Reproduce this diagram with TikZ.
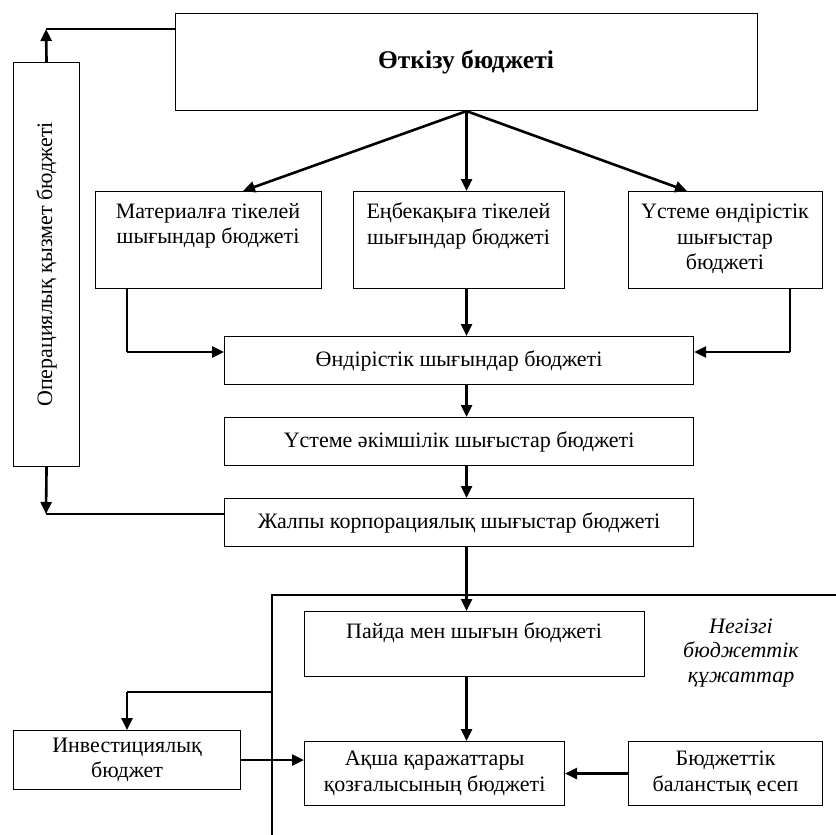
\documentclass[tikz,border=0pt]{standalone}
\usepackage{fontspec}
\setmainfont{Liberation Serif}
\usetikzlibrary{arrows.meta}
\begin{document}
\begin{tikzpicture}[x=1pt,y=-1pt,
  box/.style={draw, line width=1.1pt, anchor=north west, inner sep=0pt},
  txt/.style={font=\fontsize{22}{25.5}\selectfont, align=center, inner sep=0pt},
  thinl/.style={line width=1.1pt},
  arr/.style={line width=2.6pt, -{Triangle[length=12pt,width=11pt]}},
]
\useasboundingbox (0,0) rectangle (836,835);
% boxes
\node[box, minimum width=582, minimum height=97] (top) at (175,13) {};
\node[box, minimum width=66, minimum height=404] (left) at (13,62) {};
\node[box, minimum width=226, minimum height=97] (mat) at (95,191) {};
\node[box, minimum width=211, minimum height=97] (enb) at (353,191) {};
\node[box, minimum width=194, minimum height=97] (ust) at (628,191) {};
\node[box, minimum width=469, minimum height=48] (ond) at (224,336) {};
\node[box, minimum width=469, minimum height=48] (ak) at (224,417) {};
\node[box, minimum width=469, minimum height=48] (jal) at (224,498) {};
\node[box, minimum width=340, minimum height=65] (pay) at (304,611) {};
\node[box, minimum width=260, minimum height=64] (aks) at (304,741) {};
\node[box, minimum width=194, minimum height=64] (bal) at (628,741) {};
\node[box, minimum width=227, minimum height=59] (inv) at (13,730) {};
% texts
\node[txt, font=\fontsize{25.5}{28}\selectfont\bfseries] (ttop) at (466,62) {Өткізу бюджеті};
\node[txt, rotate=90] (tleft) at (left.center) {Операциялық қызмет бюджеті};
\node[txt, anchor=north] (tmat) at (208,203) {Материалға тікелей\\шығындар бюджеті};
\node[txt, anchor=north] (tenb) at (458.5,203) {Еңбекақыға тікелей\\шығындар бюджеті};
\node[txt, anchor=north] (tust) at (725,204) {Үстеме өндірістік\\шығыстар\\бюджеті};
\node[txt] (tond) at (ond.center) {Өндірістік шығындар бюджеті};
\node[txt] (tak) at (ak.center) {Үстеме әкімшілік шығыстар бюджеті};
\node[txt] (tjal) at (jal.center) {Жалпы корпорациялық шығыстар бюджеті};
\node[txt, anchor=north] (tpay) at (474,623) {Пайда мен шығын бюджеті};
\node[txt] (taks) at (aks.center) {Ақша қаражаттары\\қозғалысының бюджеті};
\node[txt] (tbal) at (bal.center) {Бюджеттік\\баланстық есеп};
\node[txt] (tinv) at (inv.center) {Инвестициялық\\бюджет};
\node[txt, font=\fontsize{22}{24.5}\selectfont\itshape] (tneg) at (741,653) {Негізгі\\бюджеттік\\құжаттар};
% coordinates
\coordinate (l1) at (46,29);
\coordinate (l2) at (46,514);
\coordinate (pm) at (243,191);
\coordinate (pu) at (687,191);
\coordinate (m1) at (127,352);
\coordinate (u1) at (790,352);
\coordinate (fr) at (272,595);
\coordinate (frb) at (272,835);
\coordinate (frr) at (836,595);
\coordinate (f2) at (272,692);
\coordinate (f3) at (127,692);
% connectors
\draw[thinl] (top.west |- l1) -- (l1);
\draw[arr] (left.north) -- (l1);
\draw[arr] (left.south) -- (l2);
\draw[thinl] (l2) -- (jal.west |- l2);
\draw[arr] (top.south) -- (pm);
\draw[arr] (top.south) -- (top.south |- enb.north);
\draw[arr] (top.south) -- (pu);
\draw[thinl] (mat.south -| m1) -- (m1);
\draw[arr] (m1) -- (ond.west |- m1);
\draw[thinl] (ust.south -| u1) -- (u1);
\draw[arr] (u1) -- (ond.east |- u1);
\draw[arr] (enb.south -| top.south) -- (ond.north -| top.south);
\draw[arr] (ond.south -| top.south) -- (ak.north -| top.south);
\draw[arr] (ak.south -| top.south) -- (jal.north -| top.south);
\draw[arr] (jal.south -| top.south) -- (pay.north -| top.south);
\draw[arr] (pay.south -| top.south) -- (aks.north -| top.south);
\draw[arr] (bal.west) -- (aks.east);
\draw[arr] (inv.east) -- (aks.west |- inv.east);
\draw[thinl] (frb) -- (fr) -- (frr);
\draw[thinl] (f2) -- (f3);
\draw[arr] (f3) -- (inv.north -| f3);
\end{tikzpicture}
\end{document}
